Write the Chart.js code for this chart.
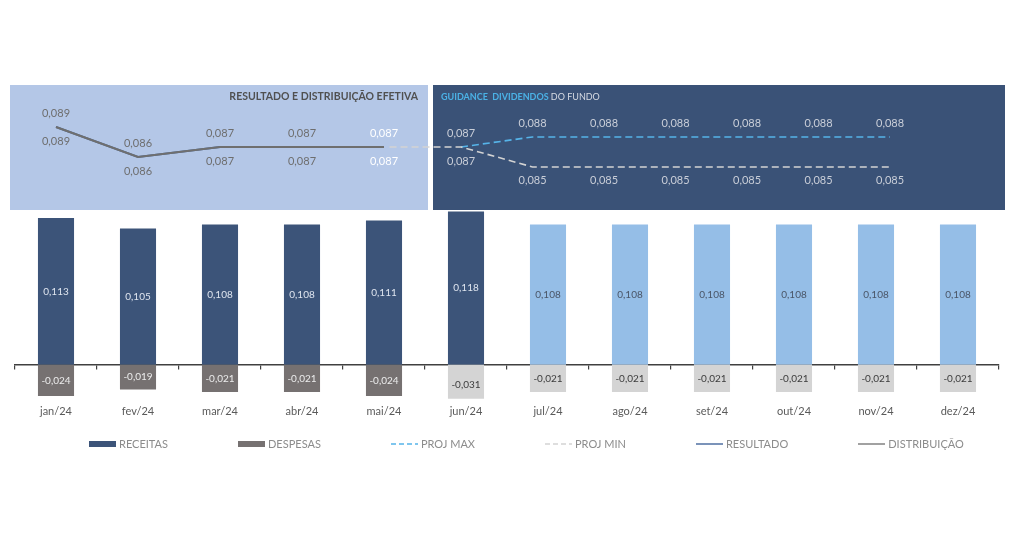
<!DOCTYPE html>
<html lang="pt-BR">
<head>
<meta charset="UTF-8">
<title>Resultado e distribuição efetiva</title>
<script src="https://cdn.jsdelivr.net/npm/chart.js@4.4.1/dist/chart.umd.min.js"></script>
<style>
    body { margin: 0; background: #fff; font-family: Lato, sans-serif; }
    .wrap { position: relative; width: 1024px; height: 536px; }
    #legend {
        position: absolute; left: 89px; top: 437px;
        display: flex; gap: 70px;
        font-size: 11px; color: #8c8c8c; line-height: 13px;
    }
    .item { display: flex; align-items: center; gap: 3px; white-space: nowrap; }
</style>
</head>
<body>
<div class="wrap">
    <canvas id="chart"></canvas>
    <div id="legend"></div>
</div>
<script>
// data
const months = ['jan/24', 'fev/24', 'mar/24', 'abr/24', 'mai/24', 'jun/24',
                'jul/24', 'ago/24', 'set/24', 'out/24', 'nov/24', 'dez/24'];
const receitas = [0.113, 0.105, 0.108, 0.108, 0.111, 0.118, 0.108, 0.108, 0.108, 0.108, 0.108, 0.108];
const despesas = [-0.024, -0.019, -0.021, -0.021, -0.024, -0.031, -0.021, -0.021, -0.021, -0.021, -0.021, -0.021];
const resultado = [0.089, 0.086, 0.087, 0.087, 0.087, null, null, null, null, null, null, null];
const distribuicao = [0.089, 0.086, 0.087, 0.087, 0.087, null, null, null, null, null, null, null];
const projMax = [null, null, null, null, null, 0.087, 0.088, 0.088, 0.088, 0.088, 0.088, 0.088];
const projMin = [null, null, null, null, 0.087, 0.087, 0.085, 0.085, 0.085, 0.085, 0.085, 0.085];
const receitasReais = 6;   // jan..jun realizados
const despesasReais = 5;   // jan..mai realizados

// scale ranges
const barRange = [-0.02615, 0.21538];
const lineRange = [0.0618, 0.0932];
const projRange = [-1.238, 12.524];

const fmt = v => v.toFixed(3).replace('.', ',');

const panels = {
    id: 'panels',
    beforeDatasetsDraw(chart) {
        const { ctx, chartArea: a, scales: { x } } = chart;
        const split = (x.getPixelForValue(despesasReais - 1) + x.getPixelForValue(despesasReais)) / 2;
        const top = a.top, h = 125;
        ctx.save();
        ctx.fillStyle = '#b4c7e7';
        ctx.fillRect(a.left - 5, top, split + 3 - (a.left - 5), h);
        ctx.fillStyle = '#3a5277';
        ctx.fillRect(split + 8, top, a.right + 6 - (split + 8), h);

        ctx.textBaseline = 'middle';
        ctx.font = 'bold 10.5px Lato';
        ctx.fillStyle = '#505050';
        ctx.textAlign = 'right';
        ctx.fillText('RESULTADO E DISTRIBUIÇÃO EFETIVA', split - 7, top + 12);

        ctx.textAlign = 'left';
        ctx.font = 'bold 9px Lato';
        ctx.fillStyle = '#4bb2e6';
        const t1 = 'GUIDANCE  DIVIDENDOS';
        ctx.fillText(t1, split + 16, top + 12);
        const w = ctx.measureText(t1 + ' ').width;
        ctx.font = '9px Lato';
        ctx.fillStyle = '#d6dbe3';
        ctx.fillText('DO FUNDO', split + 16 + w, top + 12);
        ctx.restore();
    }
};

const valueLabels = {
    id: 'valueLabels',
    afterDatasetsDraw(chart) {
        const ctx = chart.ctx;
        ctx.save();
        ctx.textAlign = 'center';
        ctx.textBaseline = 'middle';
        chart.data.datasets.forEach((ds, i) => {
            const meta = chart.getDatasetMeta(i);
            meta.data.forEach((el, j) => {
                const v = ds.values[j];
                if (v == null || j < (ds.labelFrom || 0)) return;
                let y;
                if (ds.labelPos === 'center') {
                    y = (el.y + el.base) / 2;
                    ctx.font = '10px Lato';
                } else {
                    y = el.y + (ds.labelPos === 'above' ? -14 : 14);
                    ctx.font = '11px Lato';
                }
                ctx.fillStyle = ds.labelColor(j);
                ctx.fillText(fmt(v), el.x, y);
            });
        });
        ctx.restore();
    }
};

const chart = new Chart(document.getElementById('chart'), {
    type: 'bar',
    data: {
        labels: months,
        datasets: [
            {
                label: 'RECEITAS', data: receitas, values: receitas,
                backgroundColor: receitas.map((_, i) => i < receitasReais ? '#3c5479' : '#95bee7'),
                legendColor: '#3c5479',
                xAxisID: 'x', yAxisID: 'y', order: 6, grouped: false,
                barPercentage: 0.44, categoryPercentage: 1,
                labelPos: 'center',
                labelColor: j => j < receitasReais ? '#dfe5ef' : '#4a5567'
            },
            {
                label: 'DESPESAS', data: despesas, values: despesas,
                backgroundColor: despesas.map((_, i) => i < despesasReais ? '#767171' : '#d4d4d4'),
                legendColor: '#767171',
                xAxisID: 'x', yAxisID: 'y', order: 5, grouped: false, clip: 0,
                barPercentage: 0.44, categoryPercentage: 1,
                labelPos: 'center',
                labelColor: j => j < despesasReais ? '#ececec' : '#3c3c3c'
            },
            {
                type: 'line', label: 'PROJ MAX',
                data: projMax.map((v, i) => ({ x: i, y: v })), values: projMax,
                borderColor: '#56b4e9', legendColor: '#56b4e9', borderWidth: 1.6, borderDash: [7, 4],
                pointRadius: 0, fill: false, xAxisID: 'xp', yAxisID: 'y2', order: 4,
                labelPos: 'above', labelFrom: 5, labelColor: () => '#c9ced8'
            },
            {
                type: 'line', label: 'PROJ MIN',
                data: projMin.map((v, i) => ({ x: i, y: v })), values: projMin,
                borderColor: '#d3d3d3', legendColor: '#d3d3d3', borderWidth: 1.6, borderDash: [7, 4],
                pointRadius: 0, fill: false, xAxisID: 'xp', yAxisID: 'y2', order: 3,
                labelPos: 'below', labelFrom: 5, labelColor: () => '#c9ced8'
            },
            {
                type: 'line', label: 'RESULTADO', data: resultado, values: resultado,
                borderColor: '#4a6a9c', legendColor: '#5a78a8', borderWidth: 2,
                pointRadius: 0, fill: false, xAxisID: 'x', yAxisID: 'y2', order: 2,
                labelPos: 'above', labelColor: j => j < 4 ? '#6e6e6e' : '#ffffff'
            },
            {
                type: 'line', label: 'DISTRIBUIÇÃO', data: distribuicao, values: distribuicao,
                borderColor: '#6f6f6f', legendColor: '#8a8a8a', borderWidth: 2,
                pointRadius: 0, fill: false, xAxisID: 'x', yAxisID: 'y2', order: 1,
                labelPos: 'below', labelColor: j => j < 4 ? '#6e6e6e' : '#ffffff'
            }
        ]
    },
    options: {
        responsive: true,
        maintainAspectRatio: false,
        animation: false,
        layout: { padding: { top: 85, left: 15, right: 25, bottom: 112 } },
        plugins: { legend: { display: false }, tooltip: { enabled: false } },
        scales: {
            x: {
                grid: { display: false, drawTicks: false },
                border: { display: false },
                ticks: { color: '#5a5a5a', font: { family: 'Lato', size: 11 }, padding: 6 }
            },
            xz: {
                type: 'category', position: { y: 0 }, offset: true,
                grid: { offset: true, drawOnChartArea: false, tickLength: 4, color: '#404040', lineWidth: 1.2 },
                border: { color: '#404040', width: 1.5 },
                ticks: { display: false }
            },
            xp: { type: 'linear', display: false, offset: false, bounds: 'data', min: projRange[0], max: projRange[1] },
            y: { stacked: true, display: false, bounds: 'data', min: barRange[0], max: barRange[1] },
            y2: { display: false, bounds: 'data', min: lineRange[0], max: lineRange[1] }
        }
    },
    plugins: [panels, valueLabels]
});

// legend
const legend = document.getElementById('legend');
chart.data.datasets.forEach(ds => {
    const item = document.createElement('div');
    item.className = 'item';
    let mark;
    if (ds.type === 'line') {
        const dash = ds.borderDash ? 'stroke-dasharray="5 3"' : '';
        mark = `<svg width="27" height="6"><line x1="0" y1="3" x2="27" y2="3" stroke="${ds.legendColor}" stroke-width="1.6" ${dash}/></svg>`;
    } else {
        mark = `<span style="display:inline-block;width:27px;height:6px;background:${ds.legendColor}"></span>`;
    }
    item.innerHTML = mark + '<span>' + ds.label + '</span>';
    legend.appendChild(item);
});
</script>
</body>
</html>
